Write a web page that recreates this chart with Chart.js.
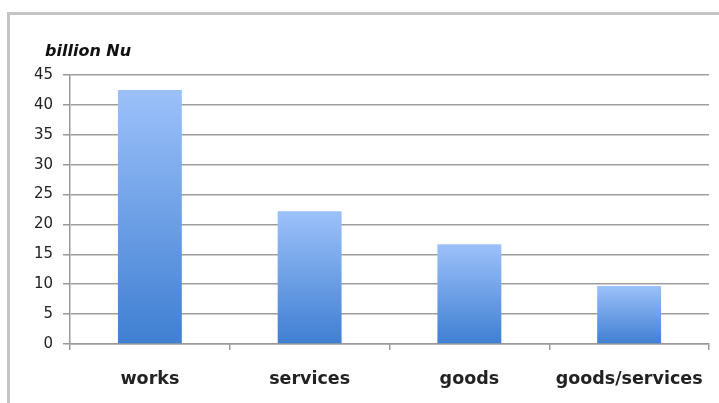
<!DOCTYPE html>
<html>
<head>
<meta charset="utf-8">
<script src="https://cdn.jsdelivr.net/npm/chart.js@4/dist/chart.umd.min.js"></script>
<style>
    html, body { margin: 0; padding: 0; background: #fff; }
    #wrap { position: relative; width: 719px; height: 403px; overflow: hidden; }
    #frame { position: absolute; left: 7px; top: 12px; width: 730px; height: 420px;
             border-top: 3px solid #c4c4c4; border-left: 3px solid #c4c4c4; }
    canvas { position: absolute; left: 0; top: 0; }
</style>
</head>
<body>
<div id="wrap">
    <div id="frame"></div>
    <canvas id="mainChart" width="719" height="403"></canvas>
</div>
<script>
    const categories = ['works', 'services', 'goods', 'goods/services'];
    const values = [42.5, 22.2, 16.7, 9.7];
    const yTicks = [0, 5, 10, 15, 20, 25, 30, 35, 40, 45];
    const unitLabel = 'billion Nu';

    const FONT = '"DejaVu Sans", "Open Sans", sans-serif';

    // per-bar vertical gradient, light on top, darker at the base
    function barFill(ctx) {
        const chart = ctx.chart;
        if (!chart.chartArea || ctx.type !== 'data') return '#6a9ee6';
        const y = chart.scales.y;
        const top = y.getPixelForValue(values[ctx.dataIndex]);
        const bottom = y.getPixelForValue(0);
        const g = chart.ctx.createLinearGradient(0, top, 0, bottom);
        g.addColorStop(0, '#9cc1fa');
        g.addColorStop(1, '#3f7fd2');
        return g;
    }

    const unitTitle = {
        id: 'unitTitle',
        afterDraw(chart) {
            const c = chart.ctx, a = chart.chartArea;
            c.save();
            c.font = 'italic bold 16px ' + FONT;
            c.fillStyle = '#111';
            c.textBaseline = 'middle';
            c.fillText(unitLabel, a.left - 25, a.top - 23);
            c.restore();
        }
    };

    new Chart(document.getElementById('mainChart').getContext('2d'), {
        type: 'bar',
        data: {
            labels: categories,
            datasets: [{
                data: values,
                backgroundColor: barFill,
                borderWidth: 0,
                barPercentage: 0.4,
                categoryPercentage: 1
            }]
        },
        options: {
            responsive: false,
            animation: false,
            layout: { padding: { top: 75, right: 10, left: 0, bottom: 0 } },
            plugins: { legend: { display: false }, tooltip: { enabled: false } },
            scales: {
                y: {
                    min: 0, max: 45,
                    afterBuildTicks: s => { s.ticks = yTicks.map(v => ({ value: v })); },
                    afterFit: s => { s.width = 70; },
                    grid: { color: '#9d9d9d', lineWidth: 1.5, tickLength: 7, tickColor: '#999' },
                    border: { color: '#999', width: 1.5 },
                    ticks: { font: { family: FONT, size: 15 }, color: '#222', padding: 10 }
                },
                x: {
                    afterFit: s => { s.height = 59; s.paddingLeft = 0; s.paddingRight = 0; },
                    grid: { drawOnChartArea: false, tickLength: 6, color: '#999', lineWidth: 1.5 },
                    border: { color: '#999', width: 1.5 },
                    ticks: { font: { family: FONT, size: 17.5, weight: 'bold' }, color: '#222', padding: 19 }
                }
            }
        },
        plugins: [unitTitle]
    });
</script>
</body>
</html>
